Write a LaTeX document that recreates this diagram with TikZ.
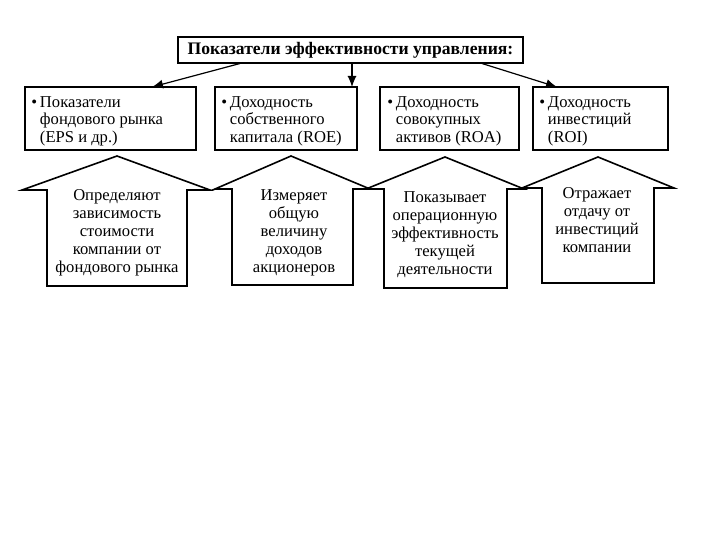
\documentclass[tikz,border=0pt]{standalone}
\usepackage{fontspec}
\setmainfont{Liberation Serif}
\usetikzlibrary{arrows.meta}
\begin{document}
\begin{tikzpicture}[x=0.5pt,y=-0.5pt,
  box/.style={draw,line width=0.8pt,inner sep=0pt,minimum height=31.5pt},
  btext/.style={anchor=west,inner sep=0pt,align=left,font=\fontsize{8.3}{8.8}\selectfont},
  house/.style={draw,line width=0.8pt,line join=miter},
  htext/.style={align=center,anchor=north,inner sep=0pt,font=\fontsize{8.3}{9}\selectfont},
  arr/.style={line width=0.6pt,-{Latex[length=5.5pt,width=4.5pt]}}]
\useasboundingbox (0,0) rectangle (720,540);
\fill[white] (0,0) rectangle (720,540);
% top box
\node[draw,line width=0.8pt,minimum width=172.5pt,minimum height=13pt,inner sep=0pt,font=\fontsize{8.8}{9}\selectfont\bfseries] (top) at (350.5,50) {Показатели эффективности управления:};
% boxes
\node[box,minimum width=85.5pt] (b1) at (110.5,118.5) {};
\node[box,minimum width=71pt] (b2) at (286,118.5) {};
\node[box,minimum width=69.5pt] (b3) at (449.5,118.5) {};
\node[box,minimum width=67.5pt] (b4) at (600.5,118.5) {};
\node[btext] (b1t) at (31,121) {•\,Показатели\\\phantom{•\,}фондового рынка\\\phantom{•\,}(EPS и др.)};
\node[btext] (b2t) at (221,121) {•\,Доходность\\\phantom{•\,}собственного\\\phantom{•\,}капитала (ROE)};
\node[btext] (b3t) at (387,121) {•\,Доходность\\\phantom{•\,}совокупных\\\phantom{•\,}активов (ROA)};
\node[btext] (b4t) at (539,121) {•\,Доходность\\\phantom{•\,}инвестиций\\\phantom{•\,}(ROI)};
% connectors
\coordinate (s1) at (240,63.5); \coordinate (t1) at (152,87);
\coordinate (s2) at (352,63.5); \coordinate (t2) at (352,87);
\coordinate (s4) at (482,63.5); \coordinate (t4) at (557,87);
\draw[arr] (s1) -- (t1);
\draw[arr] (s2) -- (t2);
\draw[arr] (s4) -- (t4);
% houses
\draw[house] (117,156) -- (210,190) -- (187,190) -- (187,286) -- (47,286) -- (47,190) -- (22,190) -- cycle;
\draw[house] (291,156) -- (370,189) -- (353,189) -- (353,285) -- (232,285) -- (232,189) -- (215,189) -- cycle;
\draw[house] (445,157) -- (524,189) -- (507,189) -- (507,288) -- (384,288) -- (384,189) -- (366,189) -- cycle;
\draw[house] (598,157) -- (674,188) -- (654,188) -- (654,283) -- (542,283) -- (542,188) -- (522,188) -- cycle;
% house texts
\node[htext] (h1) at (117,189) {Определяют\\зависимость\\стоимости\\компании от\\фондового рынка};
\node[htext] (h2) at (294,189) {Измеряет\\общую\\величину\\доходов\\акционеров};
\node[htext] (h3) at (445,191) {Показывает\\операционную\\эффективность\\текущей\\деятельности};
\node[htext] (h4) at (597,187) {Отражает\\отдачу от\\инвестиций\\компании};
\end{tikzpicture}
\end{document}
